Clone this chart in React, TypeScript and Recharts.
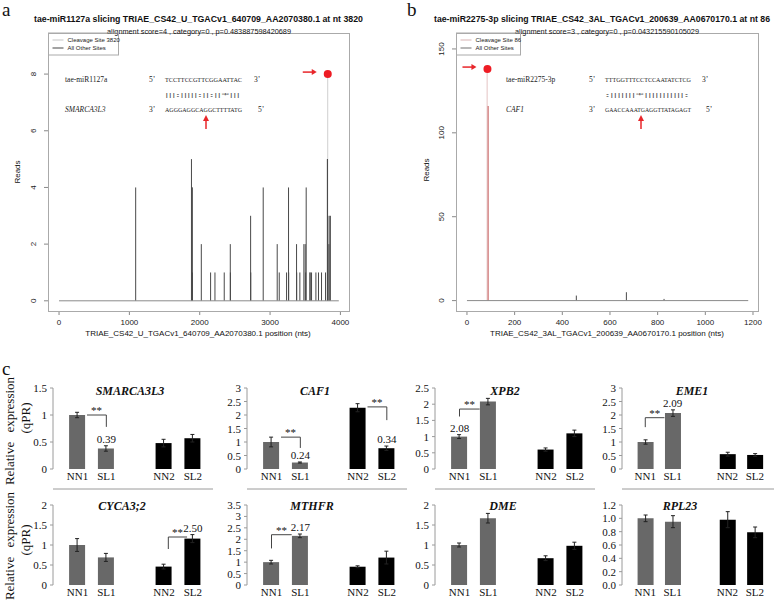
import React from 'react';
import {
  ComposedChart,
  Bar,
  XAxis,
  YAxis,
  ReferenceLine,
  ReferenceDot,
  ErrorBar,
  Cell,
} from 'recharts';

const SANS = '"Liberation Sans", Arial, Helvetica, sans-serif';
const SERIF = '"Liberation Serif", "Times New Roman", serif';

// ---- panel a: degradome reads along the transcript ----
const sitesA = [1089, 1882, 1890, 1893, 1896, 2022, 2154, 2216, 2348, 2434, 2436, 2723, 2725, 2902, 3101,
  3130, 3234, 3262, 3264, 3376, 3378, 3423, 3480, 3499, 3505, 3513, 3565, 3570, 3589, 3651,
  3688, 3731, 3788, 3814, 3816, 3818, 3836, 3840, 3857];
const readsA = [4, 5, 4, 4, 1, 2, 1, 1, 1, 2, 1, 3, 1, 4, 2,
  1, 1, 4, 1, 2, 1, 1, 2, 2, 1, 4, 1, 1, 1, 1,
  1, 1, 1, 5, 5, 3, 2, 3, 3];
const cleavePosA = 3820;
const cleaveReadsA = 8;
const lengthA = 3977;
const xTicksA = [0, 1000, 2000, 3000, 4000];
const yTicksA = [0, 2, 4, 6, 8];

// ---- panel b ----
const sitesB = [86, 456, 666, 824];
const readsB = [116, 3, 5, 1];
const cleavePosB = 86;
const cleaveReadsB = 138;
const lengthB = 1180;
const xTicksB = [0, 200, 400, 600, 800, 1000, 1200];
const yTicksB = [0, 50, 100, 150];

// ---- panel c: qPCR ----
const genes = ['SMARCA3L3', 'CAF1', 'XPB2', 'EME1', 'CYCA3;2', 'MTHFR', 'DME', 'RPL23'];
const groups = ['NN1', 'SL1', 'NN2', 'SL2'];
const groupSlot = [0, 1, 3, 4];
const nn1 = [1.0, 1.0, 1.0, 1.0, 1.0, 1.0, 1.0, 1.0];
const sl1 = [0.38, 0.24, 2.08, 2.07, 0.69, 2.15, 1.67, 0.95];
const nn2 = [0.48, 2.27, 0.6, 0.55, 0.46, 0.8, 0.67, 0.98];
const sl2 = [0.57, 0.77, 1.1, 0.52, 1.16, 1.2, 0.98, 0.79];
const nn1Err = [0.05, 0.18, 0.06, 0.08, 0.16, 0.08, 0.05, 0.05];
const sl1Err = [0.05, 0.02, 0.1, 0.12, 0.1, 0.08, 0.12, 0.09];
const nn2Err = [0.07, 0.15, 0.05, 0.07, 0.06, 0.04, 0.06, 0.12];
const sl2Err = [0.07, 0.08, 0.1, 0.05, 0.1, 0.28, 0.09, 0.08];
const yMax = [1.5, 3, 2.5, 3, 2, 3.5, 2, 1.2];
const yStep = [0.5, 0.5, 0.5, 0.5, 0.5, 0.5, 0.5, 0.2];

// fold-change labels: gene index, bar index, text
const valueLabels = [
  { gene: 0, bar: 1, text: '0.39' },
  { gene: 1, bar: 1, text: '0.24' },
  { gene: 1, bar: 3, text: '0.34' },
  { gene: 2, bar: 0, text: '2.08' },
  { gene: 3, bar: 1, text: '2.09' },
  { gene: 4, bar: 3, text: '2.50' },
  { gene: 5, bar: 1, text: '2.17' },
];

// significance brackets in data units
const brackets = [
  { gene: 0, path: [[0.33, 1.0], [1, 1.0], [1, 0.78]], star: [0.66, 1.0] },
  { gene: 1, path: [[0.33, 1.18], [1, 1.18], [1, 0.78]], star: [0.66, 1.18] },
  { gene: 1, path: [[3.33, 2.3], [4, 2.3], [4, 1.81]], star: [3.66, 2.3] },
  { gene: 2, path: [[0, 1.62], [0, 1.85], [0.7, 1.85]], star: [0.35, 1.85] },
  { gene: 3, path: [[0, 1.55], [0, 1.9], [0.7, 1.9]], star: [0.35, 1.9] },
  { gene: 4, path: [[3.15, 0.9], [3.15, 1.2], [3.8, 1.2]], star: [3.47, 1.2] },
  { gene: 5, path: [[0, 1.6], [0, 2.2], [0.7, 2.2]], star: [0.35, 2.2] },
];

const colX = [53, 247, 435, 622];
const colW = [160, 160, 160, 152];
const rowY = [388, 505];
const rowH = [81, 80];
const titleX = [[130, 315, 505, 692], [122, 312, 503, 680]];

const Stick = (p: any) => {
  const { x, y, width, height, fill } = p;
  if (!(height > 0.2)) return null;
  return <rect x={x + width / 2 - 0.5} y={y} width={1} height={height} fill={fill} />;
};

const SansXTick = (p: any) => (
  <text x={p.x} y={p.y} dy={7} textAnchor="middle" fontSize={8} fontFamily={SANS} fill="#222">
    {p.payload.value}
  </text>
);

const ArrowLabel = (p: any) => {
  const vb = p.viewBox || {};
  const cy = vb.y + vb.height / 2 - 2;
  const x2 = vb.x - 7;
  const x1 = x2 - 14;
  return (
    <g>
      <line x1={x1} y1={cy} x2={x2 - 3} y2={cy} stroke="#e8262a" strokeWidth={1.5} />
      <polygon points={`${x2},${cy} ${x2 - 5},${cy - 3} ${x2 - 5},${cy + 3}`} fill="#e8262a" />
    </g>
  );
};

const TextAbove = (p: any) => {
  const vb = p.viewBox || {};
  return (
    <text x={vb.x + (vb.width || 0) / 2} y={vb.y - p.gap} textAnchor="middle" fontSize={11}
      fontFamily={SERIF} fill="#111">{p.text}</text>
  );
};

type TPlotProps = {
  left: number;
  width: number;
  sites: number[];
  reads: number[];
  cleavePos: number;
  cleaveReads: number;
  length: number;
  xDomain: [number, number];
  xTicks: number[];
  yDomain: [number, number];
  yTicks: number[];
  cleaveColor: string;
  cleaveSiteColor: string;
};

const TPlot: React.FC<TPlotProps> = (props) => {
  const rows: any[] = props.sites.map((p, i) => ({ pos: p, reads: props.reads[i] }));
  const hit = rows.find((r) => r.pos === props.cleavePos);
  if (hit) hit.cleave = props.cleaveReads;
  else rows.push({ pos: props.cleavePos, cleave: props.cleaveReads });
  rows.sort((a, b) => a.pos - b.pos);

  return (
    <div style={{ position: 'absolute', left: props.left, top: 0 }}>
      <ComposedChart width={props.width + 12} height={336} data={rows}
        margin={{ top: 33, right: 12, bottom: 0, left: 0 }} barGap={0}>
        <XAxis dataKey="pos" type="number" domain={props.xDomain} ticks={props.xTicks}
          allowDataOverflow interval={0} axisLine={false} tickLine={{ stroke: '#888' }} tickSize={4}
          tickMargin={3} height={25} tick={(p: any) => <SansXTick {...p} />} />
        <YAxis type="number" domain={props.yDomain} ticks={props.yTicks} allowDataOverflow
          interval={0} width={48} axisLine={false} tickLine={{ stroke: '#888' }} tickSize={4}
          tickMargin={11}
          tick={{ angle: -90, textAnchor: 'middle', verticalAnchor: 'middle', fontSize: 8, fontFamily: SANS, fill: '#222' }} />
        <ReferenceLine segment={[{ x: 0, y: 0 }, { x: props.length, y: 0 }]} stroke="#8a8a8a" />
        <Bar dataKey="cleave" fill={props.cleaveColor} barSize={1} isAnimationActive={false}
          shape={(p: any) => <Stick {...p} />} />
        <Bar dataKey="reads" fill="#4a4a4a" barSize={1} isAnimationActive={false}
          shape={(p: any) => <Stick {...p} />}>
          {rows.map((r, i) => (
            <Cell key={i} fill={r.pos === props.cleavePos ? props.cleaveSiteColor : '#4a4a4a'} />
          ))}
        </Bar>
        <ReferenceDot x={props.cleavePos} y={props.cleaveReads} r={4} fill="#ee1c24" stroke="none"
          label={<ArrowLabel />} />
      </ComposedChart>
    </div>
  );
};

const QBar: React.FC<{ gi: number; left: number; top: number; w: number; h: number }> = ({ gi, left, top, w, h }) => {
  const vals = [nn1[gi], sl1[gi], nn2[gi], sl2[gi]];
  const errs = [nn1Err[gi], sl1Err[gi], nn2Err[gi], sl2Err[gi]];
  const rows = groups.map((g, k) => ({ slot: groupSlot[k], name: g, v: vals[k], e: errs[k] }));
  const n = Math.round(yMax[gi] / yStep[gi]);
  const yTicks = Array.from({ length: n + 1 }, (_, k) => +(k * yStep[gi]).toFixed(2));
  const fmt = (v: number) => (yStep[gi] < 0.5 ? v.toFixed(1) : String(v));
  const dom: [number, number] = [-0.85, 4.7];

  const CatTick = (p: any) => (
    <text x={p.x} y={p.y} dy={9} textAnchor="middle" fontSize={11} fontFamily={SERIF} fill="#111">
      {groups[groupSlot.indexOf(p.payload.value)]}
    </text>
  );
  const ValTick = (p: any) => (
    <text x={p.x} y={p.y} dy={4} textAnchor="end" fontSize={11} fontFamily={SERIF} fill="#111">
      {fmt(p.payload.value)}
    </text>
  );

  return (
    <div style={{ position: 'absolute', left: left - 30, top: top - 14 }}>
      <ComposedChart width={w + 34} height={h + 38} data={rows}
        margin={{ top: 14, right: 4, bottom: 0, left: 0 }}>
        <XAxis xAxisId="tm" type="number" domain={dom} allowDataOverflow
          ticks={[-0.5, 0.5, 1.5, 2.5, 3.5, 4.5]} interval={0} tick={false}
          tickSize={3} height={4} axisLine={{ stroke: '#9a9a9a' }} tickLine={{ stroke: '#9a9a9a' }} />
        <XAxis xAxisId="cat" dataKey="slot" type="number" domain={dom} allowDataOverflow
          ticks={groupSlot} interval={0} axisLine={false} tickLine={false} tickSize={0} tickMargin={2}
          height={20} tick={(p: any) => <CatTick {...p} />} />
        <YAxis type="number" domain={[0, yMax[gi]]} ticks={yTicks} interval={0} allowDataOverflow
          width={30} axisLine={{ stroke: '#9a9a9a' }} tickLine={{ stroke: '#9a9a9a' }} tickSize={3}
          tickMargin={3} tick={(p: any) => <ValTick {...p} />} />
        <Bar xAxisId="cat" dataKey="v" barSize={16} isAnimationActive={false}>
          {rows.map((r, k) => (
            <Cell key={k} fill={k < 2 ? '#686868' : '#000'} />
          ))}
          <ErrorBar dataKey="e" width={2} stroke="#222" strokeWidth={1} />
        </Bar>
        {brackets.filter((b) => b.gene === gi).map((b, bi) =>
          b.path.slice(1).map((pt, k) => (
            <ReferenceLine key={`${bi}-${k}`} xAxisId="cat"
              segment={[{ x: b.path[k][0], y: b.path[k][1] }, { x: pt[0], y: pt[1] }]}
              stroke="#444" strokeWidth={1} />
          ))
        )}
        {brackets.filter((b) => b.gene === gi).map((b, bi) => (
          <ReferenceDot key={`s${bi}`} xAxisId="cat" x={b.star[0]} y={b.star[1]} r={0}
            fill="none" stroke="none" label={<TextAbove text="**" gap={1} />} />
        ))}
        {valueLabels.filter((l) => l.gene === gi).map((l, li) => (
          <ReferenceDot key={`v${li}`} xAxisId="cat" x={groupSlot[l.bar]} y={vals[l.bar] + errs[l.bar]}
            r={0} fill="none" stroke="none" label={<TextAbove text={l.text} gap={3} />} />
        ))}
      </ComposedChart>
    </div>
  );
};

const seqA = { mir: 'tae-miR1127a', tgt: 'SMARCA3L3', top: 'TCCTTCCGTTCGGAATTAC', mid: '|||:|||||:||:||*|||', bot: 'AGGGAGGCAGGCTTTTATG' };
const seqB = { mir: 'tae-miR2275-3p', tgt: 'CAF1', top: 'TTTGGTTTCCTCCAATATCTCG', mid: ':|||||||*|||||||||||:', bot: 'GAACCAAATGAGGTTATAGAGT' };

const Alignment = ({ x0, xP, xS, sw, xE, s, ax }: any) => (
  <g fontFamily={SERIF} fontSize={7.5} fill="#222">
    <text x={x0} y={82}>{s.mir}</text>
    <text x={xP} y={82}>5’</text>
    <text x={xS} y={82} fontSize={6} textLength={sw} lengthAdjust="spacingAndGlyphs">{s.top}</text>
    <text x={xE + 2} y={82}>3’</text>
    <text x={xS} y={97} fontSize={7} textLength={sw - 2} lengthAdjust="spacingAndGlyphs" fill="#555">{s.mid}</text>
    <text x={x0} y={112} fontStyle="italic">{s.tgt}</text>
    <text x={xP} y={112}>3’</text>
    <text x={xS} y={112} fontSize={6} textLength={sw} lengthAdjust="spacingAndGlyphs">{s.bot}</text>
    <text x={xE + 6} y={112}>5’</text>
    <line x1={ax} y1={129} x2={ax} y2={119} stroke="#e8262a" strokeWidth={1.5} />
    <polygon points={`${ax},${115} ${ax - 3},${121} ${ax + 3},${121}`} fill="#e8262a" />
  </g>
);

const LegendBox = ({ x, w, label, c1, c2 }: any) => (
  <g fontFamily={SANS} fontSize={6} fill="#222">
    <rect x={x} y={33} width={w} height={22} fill="none" stroke="#aaa" />
    <line x1={x + 4} x2={x + 15} y1={40} y2={40} stroke={c1} strokeWidth={1.2} />
    <line x1={x + 4} x2={x + 15} y1={48} y2={48} stroke={c2} strokeWidth={1.2} />
    <text x={x + 19} y={42}>{label}</text>
    <text x={x + 19} y={50}>All Other Sites</text>
  </g>
);

const App: React.FC = () => {
  return (
    <div style={{ position: 'absolute', left: 0, top: 0, width: 778, height: 604, background: '#fff', overflow: 'hidden' }}>
      <TPlot left={0} width={349} sites={sitesA} reads={readsA} cleavePos={cleavePosA}
        cleaveReads={cleaveReadsA} length={lengthA} xDomain={[-157, 4122]} xTicks={xTicksA}
        yDomain={[-0.36, 9.45]} yTicks={yTicksA} cleaveColor="#cfcfcf" cleaveSiteColor="#4a4a4a" />
      <TPlot left={408} width={350} sites={sitesB} reads={readsB} cleavePos={cleavePosB}
        cleaveReads={cleaveReadsB} length={lengthB} xDomain={[-46, 1221]} xTicks={xTicksB}
        yDomain={[-6.2, 159.5]} yTicks={yTicksB} cleaveColor="#e4c4c4" cleaveSiteColor="#c55a5a" />

      {genes.map((g, gi) => {
        const r = Math.floor(gi / 4);
        const c = gi % 4;
        return <QBar key={g} gi={gi} left={colX[c]} top={rowY[r]} w={colW[c]} h={rowH[r]} />;
      })}

      <svg width={778} height={604} style={{ position: 'absolute', left: 0, top: 0, pointerEvents: 'none' }}>
        {/* panel letters */}
        <g fontFamily={SERIF} fontSize={19} fill="#111">
          <text x={2} y={16}>a</text>
          <text x={407} y={16}>b</text>
          <text x={2} y={375}>c</text>
        </g>

        {/* plot boxes */}
        <rect x={48.5} y={33.5} width={301} height={278} fill="none" stroke="#aaa" />
        <rect x={456.5} y={33.5} width={302} height={278} fill="none" stroke="#aaa" />

        {/* titles */}
        <g fontFamily={SANS} fill="#111">
          <text x={34} y={22} fontSize={8.6} fontWeight="bold" textLength={329} lengthAdjust="spacingAndGlyphs">
            tae-miR1127a slicing TRIAE_CS42_U_TGACv1_640709_AA2070380.1 at nt 3820
          </text>
          <text x={107} y={34} fontSize={7.2} textLength={184} lengthAdjust="spacingAndGlyphs">
            alignment score=4 , category=0 , p=0.483887598420689
          </text>
          <text x={434} y={22} fontSize={8.2} fontWeight="bold" textLength={336} lengthAdjust="spacingAndGlyphs">
            tae-miR2275-3p slicing TRIAE_CS42_3AL_TGACv1_200639_AA0670170.1 at nt 86
          </text>
          <text x={515} y={34} fontSize={7.2} textLength={184} lengthAdjust="spacingAndGlyphs">
            alignment score=3 , category=0 , p=0.043215590105029
          </text>
          <text x={198} y={336} fontSize={8} textAnchor="middle">
            TRIAE_CS42_U_TGACv1_640709_AA2070380.1 position (nts)
          </text>
          <text x={607} y={336} fontSize={8} textAnchor="middle">
            TRIAE_CS42_3AL_TGACv1_200639_AA0670170.1 position (nts)
          </text>
          <text transform="translate(20,172) rotate(-90)" fontSize={8} textAnchor="middle">Reads</text>
          <text transform="translate(429,170) rotate(-90)" fontSize={8} textAnchor="middle">Reads</text>
        </g>

        <LegendBox x={48.5} w={70} label="Cleavage Site 3820" c1="#cfcfcf" c2="#666" />
        <LegendBox x={456.5} w={64} label="Cleavage Site 86" c1="#ddc0c0" c2="#888" />

        <Alignment x0={65} xP={149} xS={165} sw={77} xE={252} s={seqA} ax={206} />
        <Alignment x0={506} xP={589} xS={605} sw={86} xE={700} s={seqB} ax={641} />

        {/* panel c gene titles */}
        <g fontFamily={SERIF} fontSize={12} fontWeight="bold" fontStyle="italic" fill="#111" textAnchor="middle">
          {genes.map((g, gi) => (
            <text key={g} x={titleX[Math.floor(gi / 4)][gi % 4]} y={Math.floor(gi / 4) === 0 ? 395 : 510}>{g}</text>
          ))}
        </g>

        {/* y titles panel c */}
        <g fontFamily={SERIF} fontSize={13} fill="#111" textAnchor="middle">
          <text transform="translate(14,431) rotate(-90)" wordSpacing={6}>Relative expression</text>
          <text transform="translate(30,418) rotate(-90)">(qPR)</text>
          <text transform="translate(14,546) rotate(-90)" wordSpacing={6}>Relative expression</text>
          <text transform="translate(30,540) rotate(-90)">(qPR)</text>
        </g>
      </svg>
    </div>
  );
};

export default App;
